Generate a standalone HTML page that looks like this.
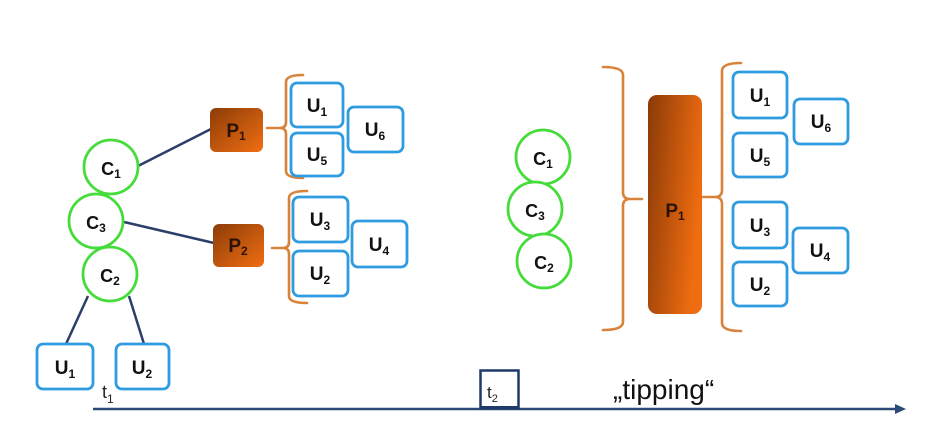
<!DOCTYPE html>
<html><head><meta charset="utf-8"><style>
html,body{margin:0;padding:0;background:#fff;}
svg{display:block;}
text{font-family:"Liberation Sans",Arial,sans-serif;}
</style></head><body>
<svg width="945" height="421" viewBox="0 0 945 421" xmlns="http://www.w3.org/2000/svg">
<defs>
<linearGradient id="pg" x1="0" y1="0" x2="1" y2="1">
<stop offset="0" stop-color="#8c3c08"/><stop offset="1" stop-color="#f06e12"/>
</linearGradient>
<linearGradient id="pg2" x1="0" y1="0" x2="1" y2="0.35">
<stop offset="0" stop-color="#8a3a08"/><stop offset="1" stop-color="#ef6c10"/>
</linearGradient>
</defs>
<rect width="945" height="421" fill="#fff"/>

<g stroke="#2c3f68" stroke-width="2.5" fill="none">
<line x1="138" y1="166" x2="211" y2="129"/>
<line x1="124" y1="222" x2="214" y2="243"/>
<line x1="88" y1="296" x2="66" y2="344"/>
<line x1="129" y1="296" x2="144" y2="344"/>
</g>

<g stroke="#d9823a" stroke-width="2.6" fill="none" stroke-linecap="round">
<path d="M303,75 Q286,75 286,82 L286,122 Q286,128 280,128 L267,128 M280,128 Q286,128 286,134 L286,171 Q286,178 303,178"/>
<path d="M307,191 Q289,191 289,198 L289,242 Q289,248 283,248 L272,248 M283,248 Q289,248 289,254 L289,296 Q289,303 307,303"/>
<path d="M603,67 Q623,67 623,75 L623,192 Q623,199 630,199 L642,199 M630,199 Q623,199 623,206 L623,322 Q623,330 603,330"/>
<path d="M741,63 Q722,63 722,71 L722,190 Q722,197 715,197 L703,197 M715,197 Q722,197 722,204 L722,323 Q722,331 741,331"/>
</g>

<g stroke="#45dc3c" stroke-width="2.8" fill="#fff">
<circle cx="111" cy="167" r="27"/>
<circle cx="96" cy="221" r="27"/>
<circle cx="110" cy="274" r="27"/>
<circle cx="543" cy="157" r="27"/>
<circle cx="535" cy="209" r="27"/>
<circle cx="544" cy="261" r="27"/>
</g>

<rect x="210" y="108" width="53" height="44" rx="6" fill="url(#pg)"/>
<rect x="213" y="224" width="51" height="43" rx="6" fill="url(#pg)"/>
<rect x="648" y="95" width="54" height="219" rx="9" fill="url(#pg2)"/>

<g stroke="#2f9be0" stroke-width="2.8" fill="#fff">
<rect x="291" y="83" width="52" height="44" rx="6"/>
<rect x="291" y="133" width="52" height="43" rx="6"/>
<rect x="348" y="107" width="55" height="45" rx="6"/>
<rect x="293" y="197" width="55" height="45" rx="6"/>
<rect x="293" y="251" width="55" height="45" rx="6"/>
<rect x="352" y="221" width="55" height="46" rx="6"/>
<rect x="37" y="344" width="56" height="45" rx="6"/>
<rect x="116" y="344" width="53" height="45" rx="6"/>
<rect x="733" y="72" width="54" height="46" rx="6"/>
<rect x="733" y="133" width="54" height="44" rx="6"/>
<rect x="794" y="99" width="54" height="45" rx="6"/>
<rect x="733" y="202" width="54" height="46" rx="6"/>
<rect x="733" y="262" width="54" height="44" rx="6"/>
<rect x="793" y="228" width="55" height="45" rx="6"/>
</g>

<g font-weight="bold" fill="#111" text-anchor="middle">
<g font-size="18">
<text x="111" y="175">C<tspan font-size="12" dy="3">1</tspan></text>
<text x="96" y="229">C<tspan font-size="12" dy="3">3</tspan></text>
<text x="110" y="282">C<tspan font-size="12" dy="3">2</tspan></text>
<text x="543" y="165">C<tspan font-size="12" dy="3">1</tspan></text>
<text x="535" y="217">C<tspan font-size="12" dy="3">3</tspan></text>
<text x="544" y="269">C<tspan font-size="12" dy="3">2</tspan></text>
</g>
<g font-size="19" fill="#2a1206">
<text x="236" y="137">P<tspan font-size="12" dy="3">1</tspan></text>
<text x="238" y="252">P<tspan font-size="12" dy="3">2</tspan></text>
<text x="675" y="217">P<tspan font-size="12" dy="3">1</tspan></text>
</g>
<g font-size="19">
<text x="317" y="112">U<tspan font-size="12" dy="4">1</tspan></text>
<text x="317" y="161">U<tspan font-size="12" dy="4">5</tspan></text>
<text x="375" y="136">U<tspan font-size="12" dy="4">6</tspan></text>
<text x="320" y="226">U<tspan font-size="12" dy="4">3</tspan></text>
<text x="320" y="280">U<tspan font-size="12" dy="4">2</tspan></text>
<text x="379" y="251">U<tspan font-size="12" dy="4">4</tspan></text>
<text x="65" y="374">U<tspan font-size="12" dy="4">1</tspan></text>
<text x="142" y="374">U<tspan font-size="12" dy="4">2</tspan></text>
<text x="760" y="102">U<tspan font-size="12" dy="4">1</tspan></text>
<text x="760" y="162">U<tspan font-size="12" dy="4">5</tspan></text>
<text x="821" y="128">U<tspan font-size="12" dy="4">6</tspan></text>
<text x="760" y="232">U<tspan font-size="12" dy="4">3</tspan></text>
<text x="760" y="291">U<tspan font-size="12" dy="4">2</tspan></text>
<text x="820" y="257">U<tspan font-size="12" dy="4">4</tspan></text>
</g>
</g>

<line x1="93" y1="409" x2="898" y2="409" stroke="#2b4a78" stroke-width="2.5"/>
<polygon points="906,409 895,404 895,414" fill="#2b4a78"/>
<rect x="480.5" y="370.5" width="38" height="37.5" fill="#fff" stroke="#1f3a68" stroke-width="2.5"/>
<line x1="480" y1="407.5" x2="519" y2="407.5" stroke="#1f3a68" stroke-width="3"/>
<text x="102" y="398" font-size="18" fill="#222">t<tspan font-size="12" dy="5">1</tspan></text>
<text x="487" y="398" font-size="17" fill="#222">t<tspan font-size="11" dy="4">2</tspan></text>
<text x="613" y="399" font-size="28" fill="#111">„tipping“</text>
</svg>
</body></html>
